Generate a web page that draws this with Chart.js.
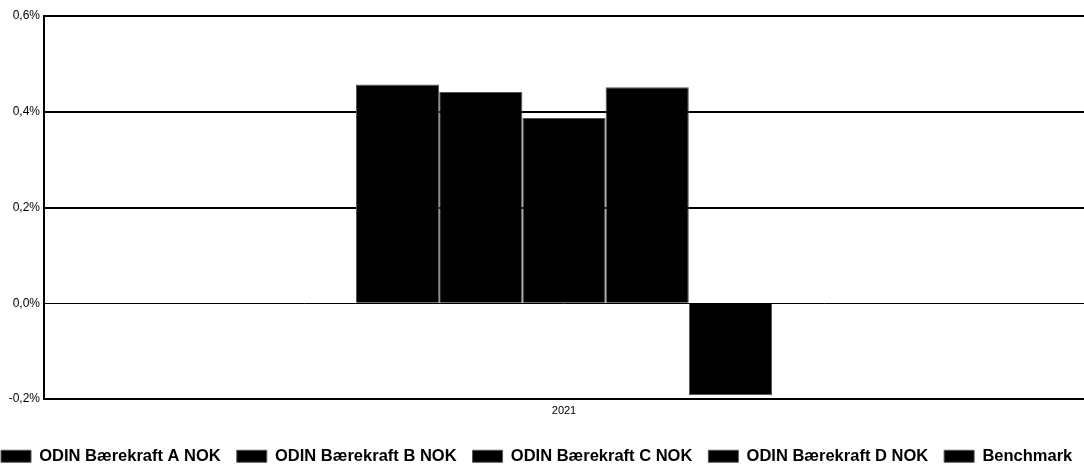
<!DOCTYPE html>
<html>
<head>
<meta charset="utf-8">
<script src="https://cdn.jsdelivr.net/npm/chart.js@4"></script>
<style>
html,body{margin:0;padding:0;background:#fff;}
#wrap{width:1084px;height:470px;}
</style>
</head>
<body>
<div id="wrap"><canvas id="c" width="1084" height="470"></canvas></div>
<script>
const categories = ['2021'];
const seriesNames = ['ODIN Bærekraft A NOK', 'ODIN Bærekraft B NOK', 'ODIN Bærekraft C NOK', 'ODIN Bærekraft D NOK', 'Benchmark'];
const valuesA = [0.457];
const valuesB = [0.441];
const valuesC = [0.387];
const valuesD = [0.451];
const valuesBenchmark = [-0.192];
const yTicks = [-0.2, 0, 0.2, 0.4, 0.6];

const seriesValues = [valuesA, valuesB, valuesC, valuesD, valuesBenchmark];
const datasets = seriesNames.map((n, i) => ({
  label: n,
  data: seriesValues[i],
  backgroundColor: '#000',
  borderColor: '#555',
  borderWidth: 1,
  barPercentage: 1.0,
  categoryPercentage: 0.4
}));

const LEGEND_PAD = 16;
const legendFix = {
  id: 'legendFix',
  beforeInit(chart) {
    const l = chart.legend;
    if (!l) return;
    const f = l.fit;
    l.fit = function () {
      const mw = this.maxWidth;
      this.maxWidth = 5000;
      f.call(this);
      this.maxWidth = mw;
      this.width = mw;
      this.height = 38;
    };
    const d = l.draw;
    l.draw = function () {
      const r = this.right, le = this.left;
      this.right = 5000;
      this.left = 1 - LEGEND_PAD;
      d.call(this);
      this.right = r;
      this.left = le;
    };
  }
};

new Chart(document.getElementById('c'), {
  type: 'bar',
  data: { labels: categories, datasets },
  plugins: [legendFix],
  options: {
    responsive: false,
    animation: false,
    devicePixelRatio: 1,
    layout: { padding: { left: 0, right: 0, top: 16, bottom: 0 } },
    plugins: {
      tooltip: { enabled: false },
      legend: {
        position: 'bottom',
        align: 'start',
        labels: {
          color: '#000',
          boxWidth: 30,
          boxHeight: 12,
          padding: LEGEND_PAD,
          font: { family: 'Liberation Sans', size: 16.5, weight: 'bold' }
        }
      }
    },
    scales: {
      x: {
        grid: { display: false, drawTicks: false },
        border: { display: true, color: '#000', width: 2 },
        ticks: { color: '#000', font: { family: 'Liberation Sans', size: 11 }, padding: 5 },
        afterFit: (axis) => { axis.height = 33; }
      },
      y: {
        min: -0.2, max: 0.6,
        afterBuildTicks: (axis) => { axis.ticks = yTicks.map(v => ({ value: v })); },
        afterFit: (axis) => { axis.width = 44; },
        grid: {
          color: '#000',
          lineWidth: (ctx) => (ctx.tick && ctx.tick.value === 0 ? 1 : 2),
          drawTicks: false
        },
        border: { display: true, color: '#000', width: 2 },
        ticks: {
          color: '#000',
          padding: 4,
          font: { family: 'Liberation Sans', size: 12 },
          callback: (v) => v.toFixed(1).replace('.', ',') + '%'
        }
      }
    }
  }
});
</script>
</body>
</html>
